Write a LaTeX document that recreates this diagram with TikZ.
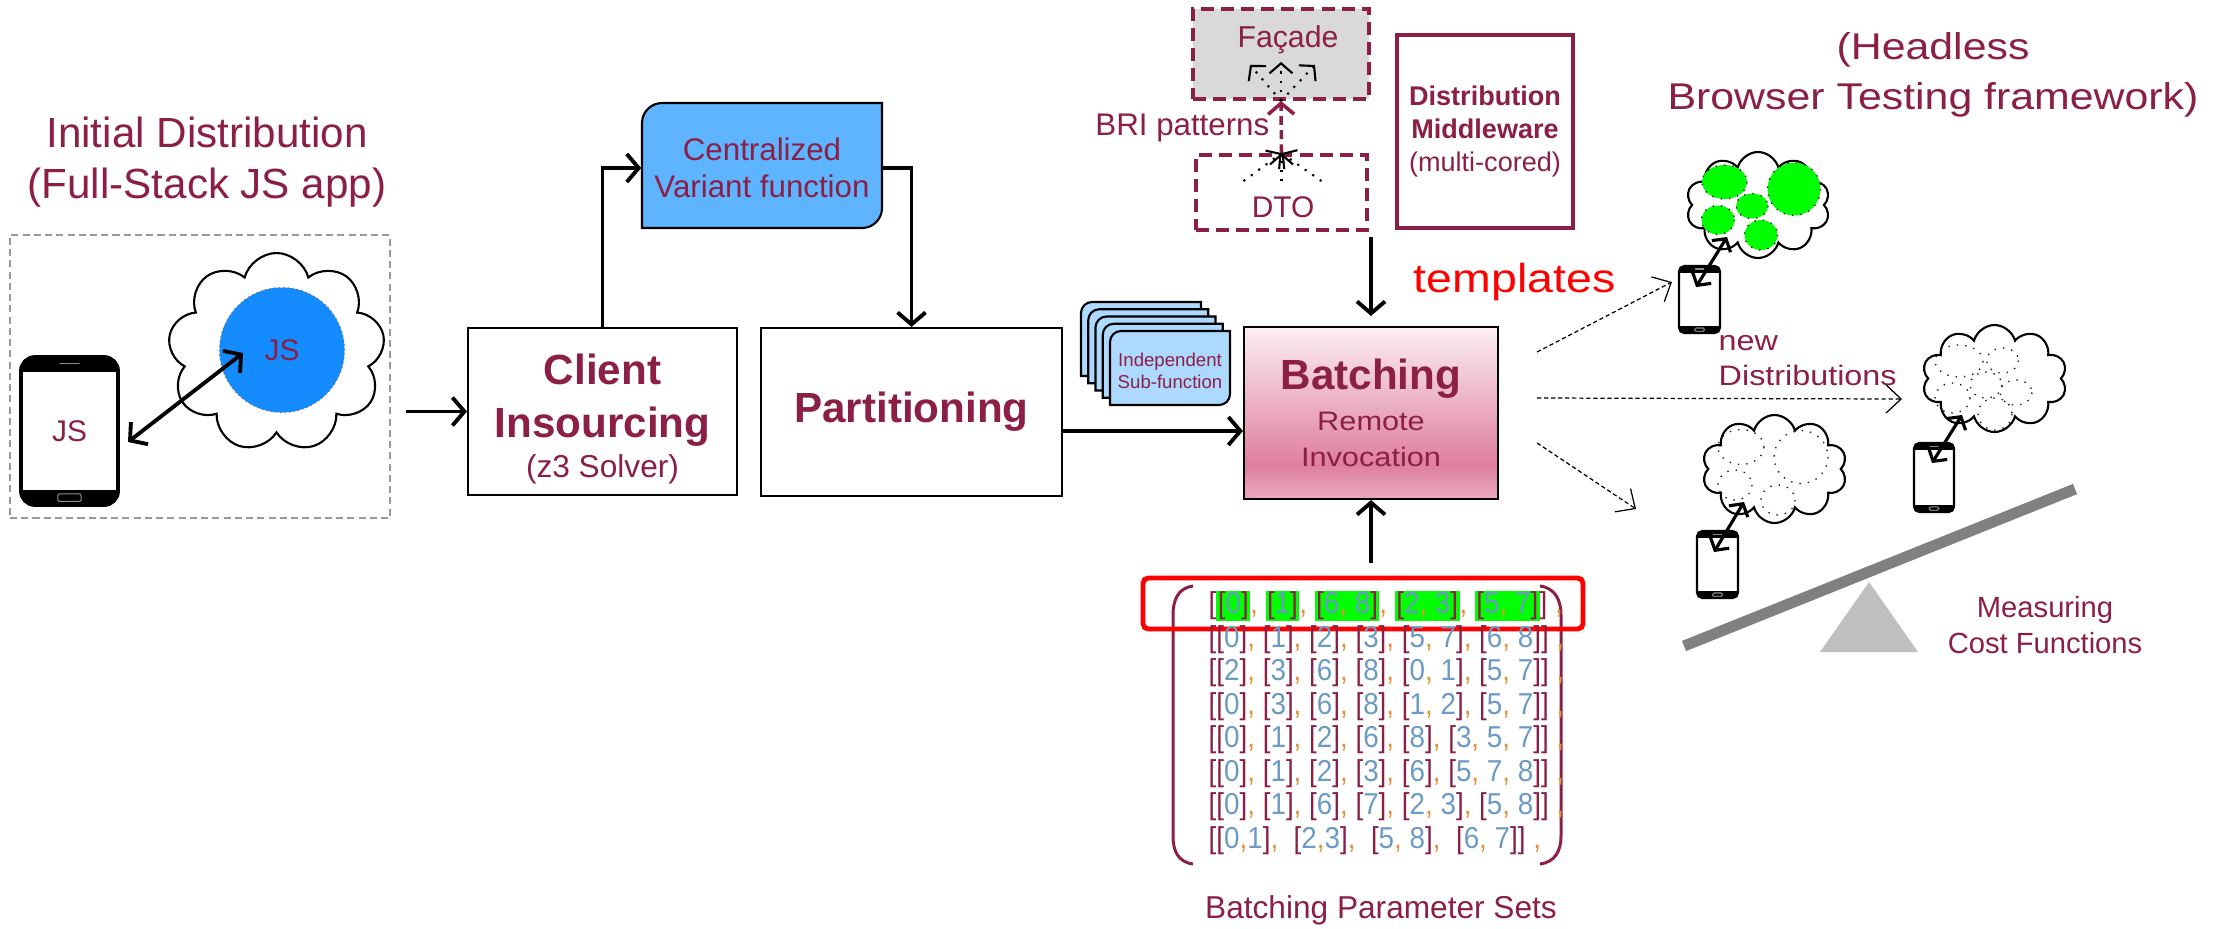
\documentclass[tikz,border=0pt]{standalone}
\usepackage{fontspec}
\setmainfont{Liberation Sans}
\newfontfamily\widefont[FakeStretch=1.15]{Liberation Sans}
\newfontfamily\rowfont[FakeStretch=0.92]{Liberation Sans}
\usetikzlibrary{positioning, arrows.meta, calc, shapes.symbols}

\definecolor{wine}{HTML}{8B1F45}
\definecolor{jsblue}{HTML}{148CFF}
\definecolor{varblue}{HTML}{5EB4FF}
\definecolor{subblue}{HTML}{ADD9FF}
\definecolor{facgray}{HTML}{D9D9D9}
\definecolor{hlgreen}{HTML}{00FF00}
\definecolor{numblue}{HTML}{6B9AC4}
\definecolor{commaor}{HTML}{E5913B}
\definecolor{beam}{HTML}{808080}
\definecolor{pivot}{HTML}{BFBFBF}
\definecolor{pktop}{HTML}{FCEFF3}
\definecolor{pkmid}{HTML}{EDB6C9}
\definecolor{pkdeep}{HTML}{DF7EA0}
\definecolor{pkbot}{HTML}{EAABC2}

% pink fill of the batching box, darkest a little above its lower edge
\pgfdeclareverticalshading{batchshade}{100bp}{%
  color(0bp)=(pkbot); color(25bp)=(pkbot); color(35bp)=(pkdeep);
  color(55bp)=(pkmid); color(75bp)=(pktop); color(100bp)=(pktop)}

% outline with only the top-left and bottom-right corners rounded
\newcommand\leafpath[5]{(#1,#2+#5) arc[start angle=180, end angle=270, radius=#5] -- (#3,#2) -- (#3,#4-#5) arc[start angle=0, end angle=90, radius=#5] -- (#1,#4) -- cycle}

% point inside a phone body, given as fractions of its width and height
\newcommand\ppt[2]{($(path picture bounding box.north west)!#1!(path picture bounding box.north east)+#2*(path picture bounding box.south west)-#2*(path picture bounding box.north west)$)}

% parameter-set entries
\newcommand\lbr{\textcolor{wine}{[}}
\newcommand\rbr{\textcolor{wine}{]}}
\newcommand\cma{\textcolor{commaor}{,}}
\newcommand\grp[1]{\lbr\textcolor{numblue}{#1}\rbr}
\newcommand\hlt[1]{{\setlength\fboxsep{0.4pt}\colorbox{hlgreen}{#1}}}

\begin{document}
\begin{tikzpicture}[
  x=0.1mm, y=-0.1mm,
  txt/.style={text=wine, inner sep=0pt, align=center},
  stepbox/.style={draw=black, line width=0.6pt, fill=white, inner sep=0pt,
                  align=center, text=wine},
  leaf/.style={draw=black, line width=0.6pt, fill=varblue},
  card/.style={draw=black, line width=0.6pt, fill=subblue},
  patbox/.style={draw=wine, line width=1.1pt, dash pattern=on 3.7pt off 2pt,
                 inner sep=0pt},
  arr/.style={-{Straight Barb[length=1.2mm, width=2.8mm]}, line width=1.1pt},
  dbl/.style={{Straight Barb[length=1.2mm, width=2.8mm]}-{Straight Barb[length=1.2mm, width=2.8mm]},
              line width=1.1pt},
  sdbl/.style={{Straight Barb[length=0.9mm, width=2.2mm]}-{Straight Barb[length=0.9mm, width=2.2mm]},
               line width=0.9pt},
  fan/.style={-{Straight Barb[length=1mm, width=2.3mm]}, line width=0.6pt, dotted},
  hint/.style={-{Straight Barb[length=1.5mm, width=2.8mm]}, line width=0.35pt,
               dash pattern=on 1.2pt off 0.8pt},
  phone/.style={draw=black, fill=white, rounded corners=#1, inner sep=0pt,
    path picture={
      \fill[black, sharp corners] \ppt{0}{0} rectangle \ppt{1}{.1};
      \fill[black, sharp corners] \ppt{0}{.9} rectangle \ppt{1}{1};
      \draw[black!45, line width=0.3pt, line cap=round, sharp corners]
        \ppt{.4}{.045} -- \ppt{.6}{.045};
      \draw[black!45, line width=0.3pt, rounded corners=0.4pt]
        \ppt{.38}{.925} rectangle \ppt{.62}{.975};}},
  puff/.style={cloud, cloud puffs=#1, cloud ignores aspect, draw=black,
               line width=0.6pt, fill=white, inner sep=0pt},
  blob/.style={draw=black!85, line width=0.4pt, dotted},
]
\useasboundingbox (0,0) rectangle (2221,928);

% ── initial distribution ─────────────────────────────────────────────────────
\node[txt, font=\fontsize{12}{14.5}\selectfont] (inittitle) at (207,162)
  {Initial Distribution\\(Full-Stack JS app)};
\node[draw=black!40, line width=0.4pt, dash pattern=on 2pt off 1.2pt,
      minimum width=38mm, minimum height=28.3mm] (initbox) at (200,376.5) {};
\node[phone=4pt, line width=1.1pt, minimum width=9.7mm, minimum height=14.8mm,
      text=wine, font=\fontsize{8.5}{10}\selectfont] (phoneL) at (69.5,431) {JS};
\node[puff=9, minimum width=21.7mm, minimum height=19.9mm] (cloudL) at (276.5,352.5) {};
\node[circle, fill=jsblue, draw=black!60, line width=0.3pt, densely dotted,
      minimum size=12.5mm, text=wine, font=\fontsize{8.5}{10}\selectfont]
      (jsnode) at (282,350) {JS};
\draw[dbl] ($(phoneL.center)+(58.5,11)$) -- ($(jsnode.center)+(-39,3)$);

% ── pipeline ─────────────────────────────────────────────────────────────────
\node[stepbox, minimum width=26.9mm, minimum height=16.7mm,
      font=\fontsize{12}{15}\selectfont\bfseries] (client) at (602.5,411.5)
  {\\[-2pt]Client\\Insourcing\\[-3.6pt]{\mdseries\fontsize{9}{10}\selectfont (z3 Solver)}};
\node[stepbox, minimum width=30.1mm, minimum height=16.8mm,
      font=\fontsize{12}{15}\selectfont\bfseries] (partition) at (911.5,412)
  {Partitioning};

\draw[leaf] \leafpath{642}{103}{882}{228}{20};
\node[txt, font=\fontsize{8.9}{10.6}\selectfont, minimum width=24mm,
      minimum height=12.5mm] (central) at (762,168) {Centralized\\Variant function};

\draw[arr] ($(initbox.east |- client.west)+(15,0)$) -- (client.west);
\draw[arr] (client.north) |- (central.west);
\draw[arr] (central.east) -| (partition.north);

% stacked sub-function cards
\foreach \i in {0,...,4}
  \draw[card] \leafpath{1081+7.25*\i}{302+7.25*\i}{1201+7.25*\i}{376+7.25*\i}{11};
\node[txt, font=\fontsize{5.3}{6.2}\selectfont] (subfn) at (1170,371)
  {Independent\\Sub-function};

\node[draw=black, line width=0.6pt, shade, shading=batchshade, minimum width=25.4mm,
      minimum height=17.2mm, txt, font=\widefont\fontsize{7.6}{10.2}\selectfont]
      (batch) at (1371,413)
  {{\normalfont\fontsize{12}{14}\selectfont\bfseries Batching}\\[1.5pt]Remote\\Invocation};
\draw[arr] ($(partition.east)+(0,19)$) -- ($(partition.east -| batch.west)+(0,19)$);

% ── patterns and middleware ──────────────────────────────────────────────────
\node[patbox, fill=facgray, minimum width=17.6mm, minimum height=9mm] (facade) at (1281,54) {};
\node[txt, font=\fontsize{8.6}{10}\selectfont] (facadetxt) at (1288,40) {Façade};
\node[patbox, fill=white, minimum width=17.1mm, minimum height=7.5mm] (dto) at (1281.5,192.5) {};
\node[txt, font=\fontsize{8.5}{10}\selectfont] (dtotxt) at (1283,207) {DTO};
\draw[wine, line width=1pt, dash pattern=on 2.5pt off 1.5pt,
      -{Straight Barb[length=1.1mm, width=2.6mm]}] (dto.north) -- (facade.south);
\foreach \dx/\dy in {-31/-36, 0/-39, 34/-36}
  \draw[fan] (facade.south) -- ($(facade.south)+(\dx,\dy)$);
\foreach \dx in {-38, 0, 40}
  \draw[fan] ($(dto.north)+(\dx,28)$) -- (dto.north);
\node[txt, anchor=east, font=\fontsize{8.9}{10}\selectfont] (bri) at (1270,128) {BRI patterns};

\node[draw=wine, line width=1.1pt, minimum width=17.6mm, minimum height=19.3mm, txt,
      font=\fontsize{7.7}{9.4}\selectfont] (mw) at (1485,131.5)
  {\textbf{Distribution}\\\textbf{Middleware}\\(multi-cored)};
\draw[arr] ($(batch.north |- dto.south)+(0,5)$) -- ($(batch.north)+(0,-10)$);

\node[text=red, inner sep=0pt, anchor=base, font=\widefont\fontsize{11.5}{13}\selectfont]
  (tmpl) at (1514.5,292) {templates};

% ── parameter sets ───────────────────────────────────────────────────────────
\draw[wine, line width=0.85pt] (1193,586) .. controls (1178,588) and (1173,600) .. (1173,615)
  -- (1173,836) .. controls (1173,851) and (1178,862) .. (1193,864);
\draw[wine, line width=0.85pt] (1540,586) .. controls (1555,588) and (1561,600) .. (1561,615)
  -- (1561,836) .. controls (1561,851) and (1555,862) .. (1540,864);
\node[draw=red, line width=1.4pt, rounded corners=1.5pt, minimum width=44mm,
      minimum height=5.1mm, inner sep=0pt] (selbox) at (1363,603.5) {};
\node[anchor=west, inner sep=0pt, align=left, font=\rowfont\fontsize{8.6}{9.53}\selectfont]
  (psets) at (1208,722.5)
  {\lbr\hlt{\grp{0}}\cma\ \hlt{\grp{1}}\cma\ \hlt{\grp{6\cma\ 8}}\cma\ \hlt{\grp{2\cma\ 3}}\cma\ \hlt{\grp{5\cma\ 7}}\rbr\ \cma\\
   \lbr\grp{0}\cma\ \grp{1}\cma\ \grp{2}\cma\ \grp{3}\cma\ \grp{5\cma\ 7}\cma\ \grp{6\cma\ 8}\rbr\ \cma\\
   \lbr\grp{2}\cma\ \grp{3}\cma\ \grp{6}\cma\ \grp{8}\cma\ \grp{0\cma\ 1}\cma\ \grp{5\cma\ 7}\rbr\ \cma\\
   \lbr\grp{0}\cma\ \grp{3}\cma\ \grp{6}\cma\ \grp{8}\cma\ \grp{1\cma\ 2}\cma\ \grp{5\cma\ 7}\rbr\ \cma\\
   \lbr\grp{0}\cma\ \grp{1}\cma\ \grp{2}\cma\ \grp{6}\cma\ \grp{8}\cma\ \grp{3\cma\ 5\cma\ 7}\rbr\ \cma\\
   \lbr\grp{0}\cma\ \grp{1}\cma\ \grp{2}\cma\ \grp{3}\cma\ \grp{6}\cma\ \grp{5\cma\ 7\cma\ 8}\rbr\ \cma\\
   \lbr\grp{0}\cma\ \grp{1}\cma\ \grp{6}\cma\ \grp{7}\cma\ \grp{2\cma\ 3}\cma\ \grp{5\cma\ 8}\rbr\ \cma\\
   \lbr\grp{0\cma 1}\cma\ \ \grp{2\cma 3}\cma\ \ \grp{5\cma\ 8}\cma\ \ \grp{6\cma\ 7}\rbr\ \cma};
\node[txt, font=\fontsize{9}{11}\selectfont] (psetlbl) at (1381,910) {Batching Parameter Sets};
\draw[arr] ($(batch.south |- selbox.north)+(0,-13)$) -- (batch.south);

% ── headless browser testing ─────────────────────────────────────────────────
\node[txt, font=\widefont\fontsize{10.6}{14.2}\selectfont] (headless) at (1933,75)
  {(Headless\\Browser Testing framework)};

\node[puff=10, minimum width=14.4mm, minimum height=10.6mm] (cloudA) at (1758,205) {};
\foreach \cx/\cy/\rx/\ry in {1724.5/182/22.5/17, 1794/189/26.5/26.5, 1752/206/16/12.5,
                             1718/220/16.5/14.5, 1761/235/16.5/15}
  \filldraw[blob, fill=hlgreen] (\cx,\cy) ellipse[x radius=\rx, y radius=\ry];
\node[phone=1.5pt, line width=0.6pt, minimum width=4.1mm, minimum height=6.7mm]
  (phoneA) at (1699.5,299.5) {};
\draw[sdbl] ($(phoneA.center)+(-3.5,-12.5)$) -- ($(cloudA.center)+(-31,32)$);

\node[txt, anchor=west, align=left, font=\widefont\fontsize{8}{10}\selectfont]
  (newdist) at (1718,360.5) {new\\Distributions};

\node[puff=10, minimum width=14.5mm, minimum height=10.7mm] (cloudB) at (1994.5,378.5) {};
\foreach \cx/\cy/\rx/\ry in {1959/361/24/16, 2002.5/360.5/16/12.5, 1986/385/16/13,
                             1952.5/398/17.5/15, 2016/392.5/16/12.5, 1995/414/17/16}
  \draw[blob] (\cx,\cy) ellipse[x radius=\rx, y radius=\ry];
\node[phone=1.5pt, line width=0.6pt, minimum width=4mm, minimum height=6.9mm]
  (phoneB) at (1934,477.5) {};
\draw[sdbl] ($(phoneB.center)+(-2,-14.5)$) -- ($(cloudB.center)+(-32.5,36.5)$);

\node[puff=10, minimum width=14.5mm, minimum height=10.8mm] (cloudC) at (1774.5,469) {};
\foreach \cx/\cy/\rx/\ry in {1741/447/23/17.5, 1801/457/27/26.5, 1735/485/17/15,
                             1778/500/17/15}
  \draw[blob] (\cx,\cy) ellipse[x radius=\rx, y radius=\ry];
\node[phone=1.5pt, line width=0.6pt, minimum width=4.1mm, minimum height=6.7mm]
  (phoneC) at (1717.5,564.5) {};
\draw[sdbl] ($(phoneC.center)+(-3.5,-12.5)$) -- ($(cloudC.center)+(-30.5,33)$);

\draw[hint] ($(batch.east)+(38,-61)$) -- ($(phoneA.west)+(-6,-17.5)$);
\draw[hint] ($(batch.east)+(38,-15)$) -- ($(cloudB.center)+(-92.5,20.5)$);
\draw[hint] ($(batch.east)+(38,30)$) -- ($(cloudC.center)+(-138.5,40)$);

% seesaw
\fill[pivot] (1869,582) -- (1918,652) -- (1820,652) -- cycle;
\draw[beam, line width=1.1mm] (1684,646) -- (2075,489);
\node[txt, font=\fontsize{8.3}{10}\selectfont] (measure) at (2045,625)
  {Measuring\\Cost Functions};

\end{tikzpicture}
\end{document}
